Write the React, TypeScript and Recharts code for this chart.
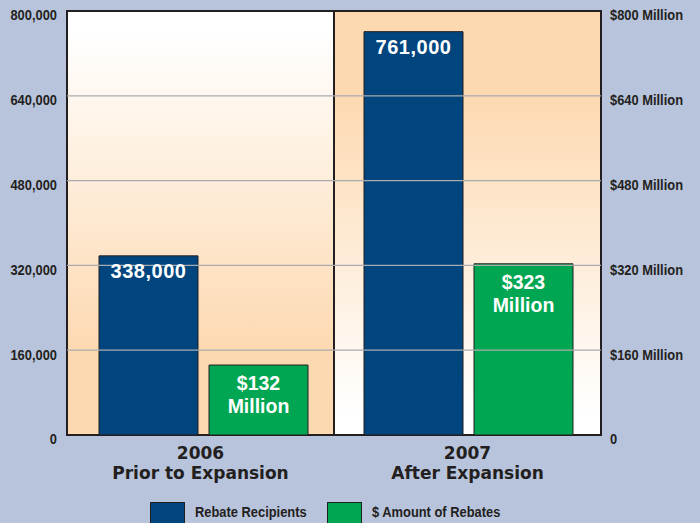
import React from 'react'
import {
  ComposedChart,
  Bar,
  XAxis,
  YAxis,
  ReferenceArea,
  ReferenceLine,
  LabelList,
  Legend,
} from 'recharts'

const categories = ['2006', '2007']
const subtitles = ['Prior to Expansion', 'After Expansion']
const recipients = [338000, 761000]
const rebateMillions = [132, 323]
const leftTicks = [0, 160000, 320000, 480000, 640000, 800000]
const rightTicks = [0, 160, 320, 480, 640, 800]
const gridTicks = [160000, 320000, 480000, 640000]

const data = categories.map((year, i) => ({
  year,
  subtitle: subtitles[i],
  recipients: recipients[i],
  amount: rebateMillions[i],
}))

const NAVY = '#00457e'
const GREEN = '#00a651'
const INK = '#231f20'
const PEACH = '#fdd9b1'
const BG = '#b8c4dc'

// no condensed face installed, so squeeze a bold sans horizontally
const SQUEEZE = 0.86
const heavy = '"DejaVu Sans", sans-serif'
const sans = '"Liberation Sans", Arial, sans-serif'
const tickStyle = { fontFamily: sans, fontWeight: 700, fontSize: 15 }

const LeftTick = ({ x, y, payload }: any) => (
  <g transform={`translate(${x},${y + 4}) scale(${SQUEEZE},1)`}>
    <text x={0} y={0} dy='0.355em' textAnchor='end' fill={INK} style={tickStyle}>
      {payload.value.toLocaleString('en-US')}
    </text>
  </g>
)

const RightTick = ({ x, y, payload }: any) => (
  <g transform={`translate(${x},${y + 4}) scale(${SQUEEZE},1)`}>
    <text x={0} y={0} dy='0.355em' textAnchor='start' fill={INK} style={tickStyle}>
      {payload.value === 0 ? '0' : `$${payload.value} Million`}
    </text>
  </g>
)

const CategoryTick = ({ x, y, payload, index }: any) => (
  <text textAnchor='middle' fill={INK}
    style={{ fontFamily: heavy, fontWeight: 700, fontSize: 17 }}>
    <tspan x={x} y={y + 24}>{payload.value}</tspan>
    <tspan x={x} y={y + 44}>{subtitles[index]}</tspan>
  </text>
)

const RecipientLabel = ({ x, y, width, value }: any) => (
  <text x={x + width / 2} y={y + 22} textAnchor='middle' fill='#fff'
    style={{ fontFamily: sans, fontWeight: 700, fontSize: 20, letterSpacing: 0.5 }}>
    {value.toLocaleString('en-US')}
  </text>
)

const AmountLabel = ({ x, y, width, value }: any) => (
  <text textAnchor='middle' fill='#fff'
    style={{ fontFamily: sans, fontWeight: 700, fontSize: 19.5 }}>
    <tspan x={x + width / 2} y={y + 25}>{`$${value}`}</tspan>
    <tspan x={x + width / 2} y={y + 48}>Million</tspan>
  </text>
)

const legendItems = [
  { name: 'Rebate Recipients', color: NAVY, left: 150 },
  { name: '$ Amount of Rebates', color: GREEN, left: 327 },
]

const LegendContent = () => (
  <svg width={700} height={21} style={{ display: 'block' }}>
    {legendItems.map((item) => (
      <g key={item.name}>
        <rect x={item.left + 0.5} y={0.5} width={34} height={30} fill={item.color} stroke={INK} />
        <g transform={`translate(${item.left + 45},${10}) scale(${SQUEEZE},1)`}>
          <text x={0} y={0} dy='0.355em' fill={INK} style={tickStyle}>{item.name}</text>
        </g>
      </g>
    ))}
  </svg>
)

export default function App() {
  return (
    <div style={{ position: 'absolute', left: 0, top: 0, width: 700, height: 523, background: BG, overflow: 'hidden' }}>
      <ComposedChart
        width={700}
        height={523}
        data={data}
        margin={{ top: 11, right: 0, bottom: 0, left: 0 }}
        barGap={11}
      >
        <defs>
          <linearGradient id='fadeDown' x1='0' y1='0' x2='0' y2='1'>
            <stop offset='0' stopColor='#ffffff' />
            <stop offset='0.05' stopColor='#ffffff' />
            <stop offset='0.8' stopColor={PEACH} />
            <stop offset='1' stopColor={PEACH} />
          </linearGradient>
          <linearGradient id='fadeUp' x1='0' y1='0' x2='0' y2='1'>
            <stop offset='0' stopColor={PEACH} />
            <stop offset='0.2' stopColor={PEACH} />
            <stop offset='0.95' stopColor='#ffffff' />
            <stop offset='1' stopColor='#ffffff' />
          </linearGradient>
        </defs>
        <XAxis dataKey='year' tick={<CategoryTick />} tickLine={false} axisLine={false}
          height={88} tickSize={0} tickMargin={0} interval={0} />
        {/* bars sit a touch right of the band centres in the original */}
        <XAxis xAxisId='bars' dataKey='year' hide padding={{ left: 4, right: 0 }} />
        <YAxis yAxisId='left' orientation='left' width={67} domain={[0, 800000]} ticks={leftTicks}
          tick={<LeftTick />} tickLine={false} axisLine={false} tickSize={0} tickMargin={10} />
        <YAxis yAxisId='right' orientation='right' width={99} domain={[0, 800]} ticks={rightTicks}
          tick={<RightTick />} tickLine={false} axisLine={false} tickSize={0} tickMargin={9} />
        <ReferenceArea yAxisId='left' x1='2006' x2='2006' fill='url(#fadeDown)' fillOpacity={1} stroke='none' />
        <ReferenceArea yAxisId='left' x1='2007' x2='2007' fill='url(#fadeUp)' fillOpacity={1} stroke='none' />
        {gridTicks.map((t) => (
          <ReferenceLine key={t} yAxisId='left' y={t} stroke='#a9abae' strokeWidth={1.2} />
        ))}
        {categories.map((c) => (
          <ReferenceArea key={c} yAxisId='left' x1={c} x2={c} fill='none' stroke={INK} strokeWidth={2} />
        ))}
        <Bar xAxisId='bars' yAxisId='left' dataKey='recipients' name='Rebate Recipients' fill={NAVY}
          stroke={INK} strokeWidth={1} barSize={99} isAnimationActive={false}>
          <LabelList dataKey='recipients' content={<RecipientLabel />} />
        </Bar>
        <Bar xAxisId='bars' yAxisId='right' dataKey='amount' name='$ Amount of Rebates' fill={GREEN}
          stroke={INK} strokeWidth={1} barSize={99} isAnimationActive={false}>
          <LabelList dataKey='amount' content={<AmountLabel />} />
        </Bar>
        <Legend verticalAlign='middle' layout='horizontal' content={<LegendContent />}
          wrapperStyle={{ left: 0, top: 502, width: 700, height: 21 }} />
      </ComposedChart>
    </div>
  )
}
